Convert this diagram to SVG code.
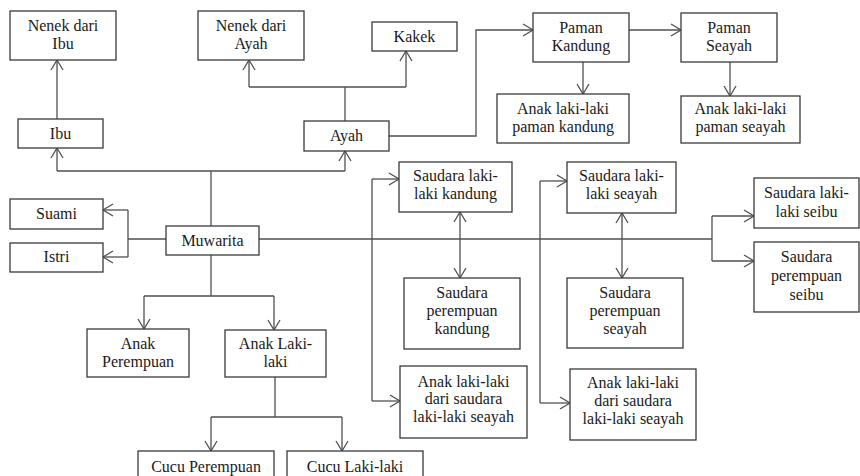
<svg xmlns="http://www.w3.org/2000/svg" width="860" height="476" viewBox="0 0 860 476">
<style>
.box{fill:#fff;stroke:#3a3a3a;stroke-width:1.3}
.t{font-family:'Liberation Serif','Times New Roman','DejaVu Serif',serif;font-size:16px;fill:#1a1a1a;text-anchor:middle}
.c{fill:none;stroke:#505050;stroke-width:1.3}
.a{marker-end:url(#arr)}
.d{marker-start:url(#arr);marker-end:url(#arr)}
</style>
<defs>
<marker id="arr" markerUnits="userSpaceOnUse" markerWidth="14" markerHeight="14" viewBox="-12 -7 14 14" refX="0" refY="0" orient="auto-start-reverse">
<path d="M-10,-6 L0,0 L-10,6" fill="none" stroke="#505050" stroke-width="1.3"/>
</marker>
</defs>
<rect width="860" height="476" fill="#fff"/>
<g id="connectors">
<path class="c a" d="M57,119 V60"/>
<path class="c" d="M211,226 V171 M57,171 H345"/>
<path class="c a" d="M57,171 V148"/>
<path class="c a" d="M345,171 V151"/>
<path class="c" d="M345,121 V87 M249,87 H406"/>
<path class="c a" d="M249,87 V60"/>
<path class="c a" d="M406,87 V51"/>
<path class="c a" d="M389,136 H476 V30 H533"/>
<path class="c a" d="M629,30 H681"/>
<path class="c a" d="M583,62 V94"/>
<path class="c a" d="M730,62 V96"/>
<path class="c" d="M166,239 H128 M128,210 V257"/>
<path class="c a" d="M128,210 H103"/>
<path class="c a" d="M128,257 H103"/>
<path class="c" d="M259,239 H712 M712,216 V261"/>
<path class="c a" d="M712,216 H754"/>
<path class="c a" d="M712,261 H754"/>
<path class="c" d="M372,179 V401"/>
<path class="c a" d="M372,179 H399"/>
<path class="c a" d="M372,401 H400"/>
<path class="c" d="M540,181 V403"/>
<path class="c a" d="M540,181 H567"/>
<path class="c a" d="M540,403 H570"/>
<path class="c d" d="M460,212 V278"/>
<path class="c d" d="M622,213 V278"/>
<path class="c" d="M211,255 V296 M144,296 H274"/>
<path class="c a" d="M144,296 V329"/>
<path class="c a" d="M274,296 V330"/>
<path class="c" d="M275,377 V417 M211,417 H342"/>
<path class="c a" d="M211,417 V451"/>
<path class="c a" d="M342,417 V451"/>
</g>
<g font-family="Liberation Serif, Times New Roman, serif">
<g id="nenek-ibu"><rect class="box" x="10" y="11" width="106" height="49"/><text class="t" x="63" y="31">Nenek dari</text><text class="t" x="63" y="49">Ibu</text></g>
<g id="nenek-ayah"><rect class="box" x="198" y="11" width="106" height="49"/><text class="t" x="251" y="31">Nenek dari</text><text class="t" x="251" y="49">Ayah</text></g>
<g id="kakek"><rect class="box" x="372" y="22" width="85" height="29"/><text class="t" x="414.5" y="42">Kakek</text></g>
<g id="paman-kandung"><rect class="box" x="533" y="13" width="96" height="49"/><text class="t" x="581" y="33">Paman</text><text class="t" x="581" y="51">Kandung</text></g>
<g id="paman-seayah"><rect class="box" x="681" y="13" width="96" height="49"/><text class="t" x="729" y="33">Paman</text><text class="t" x="729" y="51">Seayah</text></g>
<g id="anak-paman-kandung"><rect class="box" x="497" y="94" width="132" height="49"/><text class="t" x="563" y="114">Anak laki-laki</text><text class="t" x="563" y="132">paman kandung</text></g>
<g id="anak-paman-seayah"><rect class="box" x="681" y="96" width="119" height="47"/><text class="t" x="740.5" y="114">Anak laki-laki</text><text class="t" x="740.5" y="132">paman seayah</text></g>
<g id="ibu"><rect class="box" x="18" y="119" width="85" height="29"/><text class="t" x="60.5" y="139">Ibu</text></g>
<g id="ayah"><rect class="box" x="304" y="121" width="85" height="30"/><text class="t" x="346.5" y="141">Ayah</text></g>
<g id="suami"><rect class="box" x="10" y="199" width="93" height="30"/><text class="t" x="56.5" y="219">Suami</text></g>
<g id="istri"><rect class="box" x="10" y="243" width="93" height="29"/><text class="t" x="56.5" y="262">Istri</text></g>
<g id="muwarita"><rect class="box" x="166" y="226" width="93" height="29"/><text class="t" x="212.5" y="245.5">Muwarita</text></g>
<g id="saudara-lk-kandung"><rect class="box" x="399" y="162" width="113" height="50"/><text class="t" x="455.5" y="181">Saudara laki-</text><text class="t" x="455.5" y="199">laki kandung</text></g>
<g id="saudara-lk-seayah"><rect class="box" x="567" y="162" width="109" height="51"/><text class="t" x="621.5" y="181">Saudara laki-</text><text class="t" x="621.5" y="199">laki seayah</text></g>
<g id="saudara-lk-seibu"><rect class="box" x="754" y="178" width="105" height="50"/><text class="t" x="806.5" y="198">Saudara laki-</text><text class="t" x="806.5" y="217">laki seibu</text></g>
<g id="saudara-pr-seibu"><rect class="box" x="754" y="242" width="105" height="70"/><text class="t" x="806.5" y="262">Saudara</text><text class="t" x="806.5" y="281">perempuan</text><text class="t" x="806.5" y="300">seibu</text></g>
<g id="saudara-pr-kandung"><rect class="box" x="404" y="278" width="116" height="71"/><text class="t" x="462" y="298">Saudara</text><text class="t" x="462" y="316">perempuan</text><text class="t" x="462" y="334">kandung</text></g>
<g id="saudara-pr-seayah"><rect class="box" x="567" y="278" width="116" height="70"/><text class="t" x="625" y="298">Saudara</text><text class="t" x="625" y="316">perempuan</text><text class="t" x="625" y="334">seayah</text></g>
<g id="anak-perempuan"><rect class="box" x="87" y="329" width="102" height="48"/><text class="t" x="138" y="349">Anak</text><text class="t" x="138" y="367">Perempuan</text></g>
<g id="anak-laki"><rect class="box" x="225" y="330" width="101" height="47"/><text class="t" x="275.5" y="349">Anak Laki-</text><text class="t" x="275.5" y="367">laki</text></g>
<g id="anak-saudara-1"><rect class="box" x="400" y="366" width="127" height="72"/><text class="t" x="463.5" y="387">Anak laki-laki</text><text class="t" x="463.5" y="404">dari saudara</text><text class="t" x="463.5" y="422">laki-laki seayah</text></g>
<g id="anak-saudara-2"><rect class="box" x="570" y="369" width="126" height="71"/><text class="t" x="633" y="388">Anak laki-laki</text><text class="t" x="633" y="406">dari saudara</text><text class="t" x="633" y="424">laki-laki seayah</text></g>
<g id="cucu-perempuan"><rect class="box" x="138" y="451" width="136" height="32"/><text class="t" x="206" y="472">Cucu Perempuan</text></g>
<g id="cucu-laki"><rect class="box" x="287" y="451" width="136" height="32"/><text class="t" x="355" y="472">Cucu Laki-laki</text></g>
</g>
</svg>
